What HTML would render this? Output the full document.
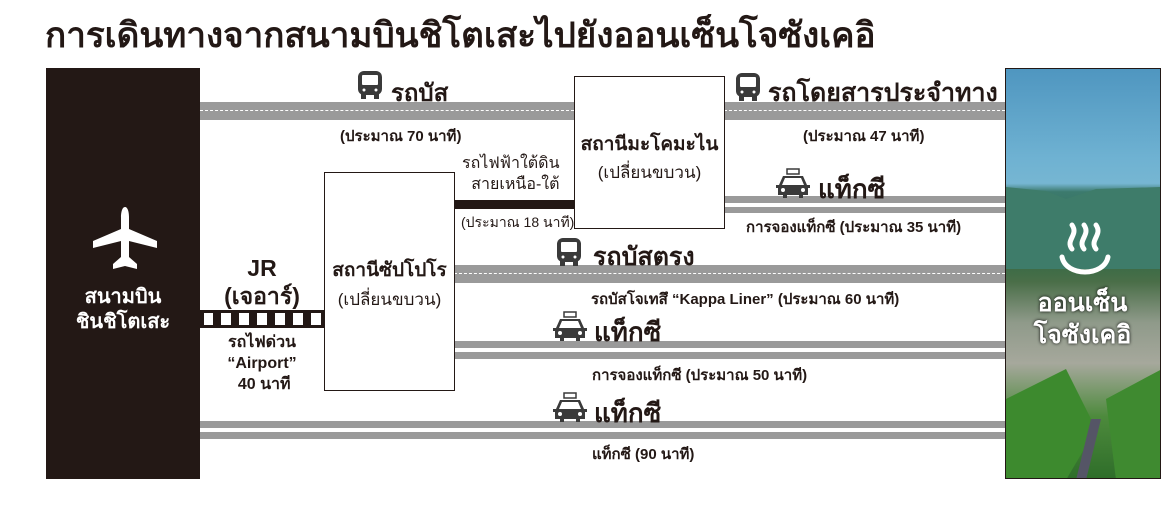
<!DOCTYPE html>
<html><head><meta charset="utf-8">
<style>
*{margin:0;padding:0;box-sizing:border-box}
body{width:1172px;height:508px;background:#fff;position:relative;overflow:hidden;font-family:"Liberation Sans","Noto Sans CJK SC","WenQuanYi Zen Hei",sans-serif;color:#231815}
.a{position:absolute}
.t{position:absolute;white-space:nowrap;font-weight:bold}
.s{font-size:15px;font-weight:bold}
.road{position:absolute;background:#9a9a9a}
.dash{position:absolute;left:0;right:0;top:50%;margin-top:-1px;height:1px;border-top:1px dashed #fff}
.box{position:absolute;border:1.5px solid #231815;background:#fff}
.c{text-align:center}
</style></head><body>

<div class="t" style="left:45px;top:8px;font-size:35px;">การเดินทางจากสนามบินชิโตเสะไปยังออนเซ็นโจซังเคอิ</div>

<!-- airport bar -->
<div class="a" style="left:46px;top:68px;width:154px;height:411px;background:#231815"></div>
<svg class="a" style="left:90px;top:205px" width="70" height="68" viewBox="0 0 70 68">
<path fill="#fff" d="M35 2c3 0 4 6 4 10v12l28 12v7l-28-7v16l8 7v5l-12-3-12 3v-5l8-7V36L3 43v-7l28-12V12c0-4 1-10 4-10z"/>
</svg>
<div class="t c" style="left:46px;top:285px;width:154px;font-size:20px;color:#fff;line-height:25px">สนามบิน<br>ชินชิโตเสะ</div>

<!-- top bus road -->
<div class="road" style="left:200px;top:102px;width:374px;height:18px"><div class="dash"></div></div>
<div class="road" style="left:724px;top:102px;width:281px;height:18px"><div class="dash"></div></div>

<!-- subway line -->
<div class="a" style="left:454px;top:200px;width:121px;height:9px;background:#231815"></div>

<!-- JR track -->
<div class="a" style="left:200px;top:310px;width:124px;height:18px;background:#231815"></div>
<svg class="a" style="left:200px;top:313px" width="124" height="12">
<g fill="#fff"><rect x="4" y="0" width="9" height="12"/><rect x="21" y="0" width="10" height="12"/><rect x="39" y="0" width="10" height="12"/><rect x="57" y="0" width="10" height="12"/><rect x="75" y="0" width="10" height="12"/><rect x="93" y="0" width="10" height="12"/><rect x="111" y="0" width="10" height="12"/></g></svg>

<!-- direct bus road -->
<div class="road" style="left:454px;top:265px;width:551px;height:18px"><div class="dash"></div></div>

<!-- taxi roads -->
<div class="road" style="left:724px;top:196px;width:281px;height:7px"></div>
<div class="road" style="left:724px;top:207px;width:281px;height:6px"></div>
<div class="road" style="left:454px;top:341px;width:551px;height:7px"></div>
<div class="road" style="left:454px;top:352px;width:551px;height:7px"></div>
<div class="road" style="left:200px;top:421px;width:805px;height:7px"></div>
<div class="road" style="left:200px;top:432px;width:805px;height:7px"></div>

<!-- boxes -->
<div class="box" style="left:324px;top:172px;width:131px;height:219px"></div>
<div class="t c" style="left:324px;top:256px;width:131px;font-size:19px;line-height:29px">สถานีซัปโปโร<br><span style="font-size:17px;font-weight:normal">(เปลี่ยนขบวน)</span></div>
<div class="box" style="left:574px;top:76px;width:151px;height:153px"></div>
<div class="t c" style="left:574px;top:131px;width:151px;font-size:19px;line-height:28px">สถานีมะโคมะไน<br><span style="font-size:17px;font-weight:normal">(เปลี่ยนขบวน)</span></div>

<!-- labels -->
<div class="t" style="left:391px;top:73px;font-size:24px">รถบัส</div>
<div class="t s" style="left:340px;top:124px">(ประมาณ 70 นาที)</div>
<div class="t" style="left:462px;top:153px;font-size:16px;font-weight:normal;line-height:21px;text-align:right">รถไฟฟ้าใต้ดิน<br>สายเหนือ-ใต้</div>
<div class="t" style="left:461px;top:212px;font-size:14px;font-weight:normal">(ประมาณ 18 นาที)</div>
<div class="t" style="left:768px;top:73px;font-size:25px">รถโดยสารประจำทาง</div>
<div class="t s" style="left:803px;top:124px">(ประมาณ 47 นาที)</div>
<div class="t" style="left:818px;top:169px;font-size:26px">แท็กซี</div>
<div class="t s" style="left:746px;top:215px">การจองแท็กซี (ประมาณ 35 นาที)</div>
<div class="t" style="left:593px;top:237px;font-size:25px">รถบัสตรง</div>
<div class="t s" style="left:591px;top:287px">รถบัสโจเทสึ “Kappa Liner” (ประมาณ 60 นาที)</div>
<div class="t" style="left:594px;top:312px;font-size:26px">แท็กซี</div>
<div class="t s" style="left:592px;top:363px">การจองแท็กซี (ประมาณ 50 นาที)</div>
<div class="t" style="left:594px;top:393px;font-size:26px">แท็กซี</div>
<div class="t s" style="left:592px;top:442px">แท็กซี (90 นาที)</div>
<div class="t c" style="left:200px;top:254px;width:124px;font-size:23px;line-height:28px">JR<br>(เจอาร์)</div>
<div class="t c" style="left:200px;top:332px;width:124px;font-size:16px;line-height:21px">รถไฟด่วน<br>“Airport”<br>&nbsp;40 นาที</div>

<!-- bus icons -->
<svg class="a" style="left:357px;top:70px" width="26" height="30" viewBox="0 0 26 30"><rect x="1" y="1" width="24" height="24" rx="6" fill="#3a3a3a"/><rect x="5" y="5" width="16" height="10" rx="1" fill="#fff"/><rect x="4" y="24" width="5" height="5" fill="#3a3a3a"/><rect x="17" y="24" width="5" height="5" fill="#3a3a3a"/><circle cx="7" cy="20" r="1.5" fill="#fff"/><circle cx="19" cy="20" r="1.5" fill="#fff"/></svg>
<svg class="a" style="left:735px;top:72px" width="26" height="30" viewBox="0 0 26 30"><rect x="1" y="1" width="24" height="24" rx="6" fill="#3a3a3a"/><rect x="5" y="5" width="16" height="10" rx="1" fill="#fff"/><rect x="4" y="24" width="5" height="5" fill="#3a3a3a"/><rect x="17" y="24" width="5" height="5" fill="#3a3a3a"/><circle cx="7" cy="20" r="1.5" fill="#fff"/><circle cx="19" cy="20" r="1.5" fill="#fff"/></svg>
<svg class="a" style="left:556px;top:237px" width="26" height="30" viewBox="0 0 26 30"><rect x="1" y="1" width="24" height="24" rx="6" fill="#3a3a3a"/><rect x="5" y="5" width="16" height="10" rx="1" fill="#fff"/><rect x="4" y="24" width="5" height="5" fill="#3a3a3a"/><rect x="17" y="24" width="5" height="5" fill="#3a3a3a"/><circle cx="7" cy="20" r="1.5" fill="#fff"/><circle cx="19" cy="20" r="1.5" fill="#fff"/></svg>

<!-- taxi icons -->
<svg class="a" style="left:775px;top:168px" width="36" height="32" viewBox="0 0 36 32"><rect x="12" y="1" width="12" height="5" fill="none" stroke="#3a3a3a" stroke-width="1.5"/><path d="M8 8h20l4 9h3v3h-2v7h-5v3h-4v-3H12v3H8v-3H3v-7H1v-3h3z" fill="#3a3a3a"/><path d="M10 10h16l3 7H7z" fill="#fff"/><circle cx="8" cy="22" r="2" fill="#fff"/><circle cx="28" cy="22" r="2" fill="#fff"/></svg>
<svg class="a" style="left:552px;top:311px" width="36" height="32" viewBox="0 0 36 32"><rect x="12" y="1" width="12" height="5" fill="none" stroke="#3a3a3a" stroke-width="1.5"/><path d="M8 8h20l4 9h3v3h-2v7h-5v3h-4v-3H12v3H8v-3H3v-7H1v-3h3z" fill="#3a3a3a"/><path d="M10 10h16l3 7H7z" fill="#fff"/><circle cx="8" cy="22" r="2" fill="#fff"/><circle cx="28" cy="22" r="2" fill="#fff"/></svg>
<svg class="a" style="left:552px;top:392px" width="36" height="32" viewBox="0 0 36 32"><rect x="12" y="1" width="12" height="5" fill="none" stroke="#3a3a3a" stroke-width="1.5"/><path d="M8 8h20l4 9h3v3h-2v7h-5v3h-4v-3H12v3H8v-3H3v-7H1v-3h3z" fill="#3a3a3a"/><path d="M10 10h16l3 7H7z" fill="#fff"/><circle cx="8" cy="22" r="2" fill="#fff"/><circle cx="28" cy="22" r="2" fill="#fff"/></svg>

<!-- photo -->
<div class="a" style="left:1005px;top:68px;width:156px;height:411px;border:1.5px solid #231815;overflow:hidden;background:linear-gradient(180deg,#4f96c0 0%,#6fb2d2 22%,#76b6d2 28%,#3c7a6e 30%,#2f6a45 45%,#4a6e48 52%,#8f9a8a 62%,#a6a89c 72%,#4d8a3c 85%,#2f6e2a 100%)">
<svg width="156" height="411" style="position:absolute;left:0;top:0">
<path d="M0 118 L40 122 L60 130 L90 120 L156 118 L156 200 L0 200z" fill="#3e7c6a"/>
<path d="M0 330 L60 300 L90 360 L60 411 L0 411z" fill="#3d8a2e"/>
<path d="M100 330 L156 300 L156 411 L110 411z" fill="#3f8a30"/>
<path d="M70 411 L85 350 L95 350 L80 411z" fill="#556"/>
<g fill="none" stroke="#fff" stroke-width="5" stroke-linecap="round"><path d="M66 180c-7-9 7-14 0-24"/><path d="M78 180c-7-9 7-14 0-24"/><path d="M90 180c-7-9 7-14 0-24"/><path d="M56 188c4 20 42 20 46 0"/></g>
</svg>
<div class="t c" style="left:0;top:218px;width:153px;color:#fff;font-size:25px;line-height:32px;text-shadow:0 0 3px #000">ออนเซ็น<br>โจซังเคอิ</div>
</div>

</body></html>
